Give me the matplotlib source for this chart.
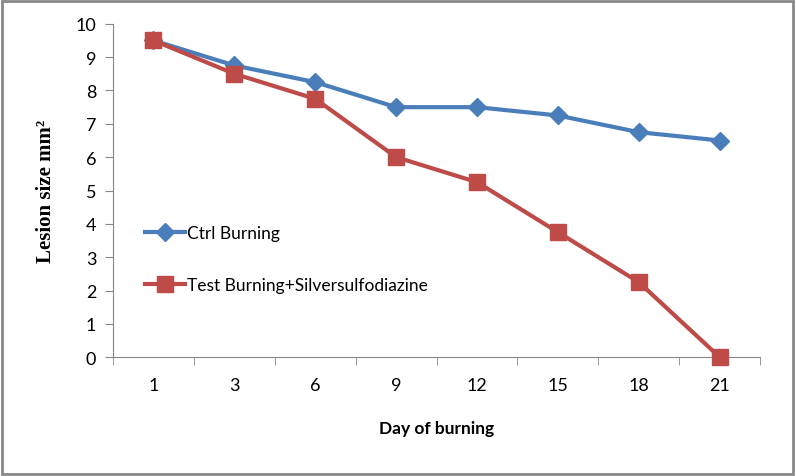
import numpy as np
import matplotlib.pyplot as plt
from matplotlib.patches import Rectangle

dias = ['1', '3', '6', '9', '12', '15', '18', '21']
ctrl = [9.5, 8.75, 8.25, 7.5, 7.5, 7.25, 6.75, 6.5]
test = [9.5, 8.5, 7.75, 6.0, 5.25, 3.75, 2.25, 0.0]

fig = plt.figure(figsize=(7.96, 4.77), dpi=100)
ax = fig.add_axes([0.142, 0.249, 0.813, 0.699])

x = np.arange(len(dias))
ax.plot(x, ctrl, color='#4A7EBB', lw=3, marker='D', ms=9, label='Ctrl Burning',
        clip_on=False, zorder=3)
ax.plot(x, test, color='#BE4B48', lw=3, marker='s', ms=11,
        label='Test Burning+Silversulfodiazine', clip_on=False, zorder=3)

ax.set_xlim(-0.5, len(dias) - 0.5)
ax.set_ylim(0, 10)
ax.set_yticks(range(0, 11))
ax.set_xticks(x)
ax.set_xticklabels(dias)
ax.set_xticks(np.arange(-0.5, len(dias)), minor=True)
ax.tick_params(axis='x', which='major', length=0, pad=14)
ax.tick_params(axis='x', which='minor', length=6, color='#868686')
ax.tick_params(axis='y', length=6, color='#868686', pad=6)
for lab in ax.get_xticklabels() + ax.get_yticklabels():
    lab.set_fontfamily('Lato')
    lab.set_fontsize(13)

for s in ['top', 'right']:
    ax.spines[s].set_visible(False)
for s in ['left', 'bottom']:
    ax.spines[s].set_color('#868686')

ax.set_xlabel('Day of burning', fontfamily='Lato', fontweight='bold',
              fontsize=12.5, labelpad=20)
ax.set_ylabel('Lesion size mm²', fontfamily='Liberation Serif',
              fontweight='bold', fontsize=15, labelpad=14)

ax.legend(loc='center left', bbox_to_anchor=(0.025, 0.295), frameon=False,
          prop={'family': 'Lato', 'size': 12.5}, labelspacing=2.1,
          handlelength=2.3, handletextpad=0.1)

fig.patches.append(Rectangle((0.003, 0.005), 0.993, 0.99, transform=fig.transFigure,
                             fill=False, edgecolor='#888888', lw=2))

plt.savefig('out.png', dpi=100)
